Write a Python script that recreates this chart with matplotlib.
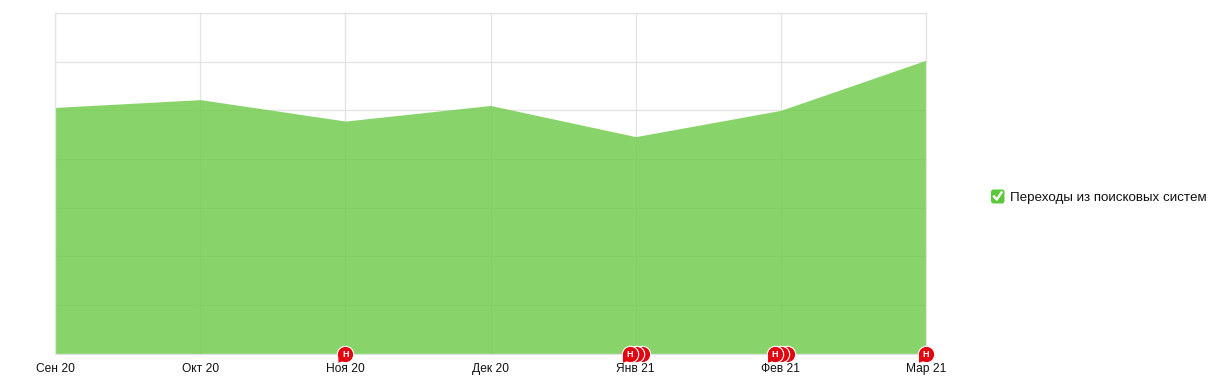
import matplotlib
matplotlib.use("Agg")
import matplotlib.pyplot as plt
from matplotlib.patches import FancyBboxPatch, Polygon
from matplotlib.lines import Line2D

plt.rcParams['font.family'] = ['Liberation Sans', 'DejaVu Sans']

months = ['Сен 20', 'Окт 20', 'Ноя 20', 'Дек 20', 'Янв 21', 'Фев 21', 'Мар 21']
visits = [506, 522, 478, 510, 446, 500, 603]
series_name = 'Переходы из поисковых систем'
note_positions = [2, 4.04, 4.0, 3.96, 5.04, 5.0, 4.96, 6]
y_ticks = [0, 100, 200, 300, 400, 500, 600, 700]

W, H = 1215, 383
fig = plt.figure(figsize=(W / 100, H / 100), dpi=100)
ax = fig.add_axes([55.1 / W, 1 - 353.7 / H, (926 - 55.1) / W, (353.7 - 13) / H])
x = list(range(len(months)))

ax.set_xlim(0, 6)
ax.set_ylim(0, 700)
ax.set_xticks(x)
ax.set_xticklabels(months, fontsize=8.65, color='#111111')
ax.set_yticks(y_ticks)
ax.tick_params(axis='both', length=0, labelleft=False, pad=6.5)
ax.grid(True, color='#e3e3e3', linewidth=0.9)
ax.set_axisbelow(True)
for s in ax.spines.values():
    s.set_color('#e3e3e3')
    s.set_linewidth(0.9)

ax.fill_between(x, visits, 0, color='#6bca46', alpha=0.8, linewidth=0, zorder=1.5)

# Note markers on the baseline
for i, pos in enumerate(note_positions):
    z = 5 + i * 0.1
    ax.plot([pos], [0], marker='o', ms=11.8, mfc='#e30611', mec='white', mew=0.8,
            clip_on=False, zorder=z)
    px, py = ax.transData.transform((pos, 0))
    tail = Polygon([[px - 7, py - 2], [px - 7, py - 9], [px - 1, py - 7]], closed=True,
                   transform=None, facecolor='#e30611', edgecolor='none',
                   clip_on=False, zorder=z)
    ax.add_patch(tail)
    ax.text(pos, 0, 'Н', color='white', fontsize=6.5, fontweight='bold', ha='center',
            va='center_baseline', clip_on=False, zorder=z + 0.05)

# Legend with a check box
box = FancyBboxPatch((991, H - 203.5), 13.5, 14, boxstyle='round,pad=0,rounding_size=2.5',
                     transform=None, facecolor='#5bc83c', edgecolor='none')
fig.add_artist(box)
fig.add_artist(Line2D([994, 996.8, 1001.5], [H - 196.5, H - 199.5, H - 192.5], transform=None,
                      color='white', linewidth=1.7))
fig.text(1010.5 / W, 1 - 197.8 / H, series_name, fontsize=9.65, color='#111111', va='center', ha='left')

fig.savefig('out.png', dpi=100)
